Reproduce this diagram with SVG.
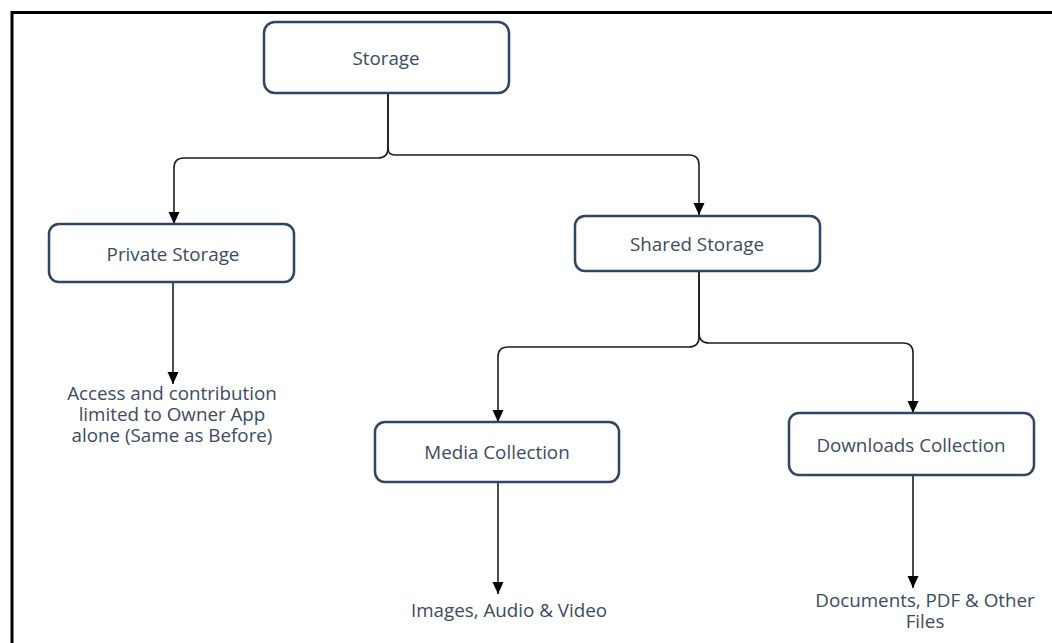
<svg xmlns="http://www.w3.org/2000/svg" width="1052" height="643" viewBox="0 0 1052 643">
  <style>
    .box { fill: #ffffff; stroke: #2f4560; stroke-width: 2.5; }
    .label { font-family: "Open Sans", "Liberation Sans", sans-serif; font-size: 18.8px; font-weight: 500; fill: #3b4b60; text-anchor: middle; }
    .edge { fill: none; stroke: #1e1e1e; stroke-width: 1.6; marker-end: url(#arrow); }
    .frame { stroke: #000000; stroke-width: 3; fill: none; }
  </style>
  <defs>
    <marker id="arrow" markerUnits="userSpaceOnUse" markerWidth="12" markerHeight="12" viewBox="0 0 12 12" refX="12" refY="6" orient="auto">
      <path d="M0,0.5 L12,6 L0,11.5 z" fill="#000000"/>
    </marker>
  </defs>

  <rect width="1052" height="643" fill="#ffffff"/>
  <!-- outer frame: top and left edges -->
  <path class="frame" d="M12,643 V12.5 H1052"/>

  <g id="connectors">
    <path class="edge" d="M388,93 V148 Q388,158 378,158 H184 Q174,158 174,168 V224"/>
    <path class="edge" d="M388,93 V148 Q388,155 395,155 H689 Q699,155 699,165 V215"/>
    <path class="edge" d="M699,271 V337 Q699,347 689,347 H508 Q498,347 498,357 V422"/>
    <path class="edge" d="M699,271 V333 Q699,343 709,343 H903 Q913,343 913,353 V413"/>
    <path class="edge" d="M173,282 V384"/>
    <path class="edge" d="M498,482 V594"/>
    <path class="edge" d="M913,475 V588"/>
  </g>

  <g id="storage">
    <rect class="box" x="264" y="22" width="245" height="71" rx="11"/>
    <text class="label" x="386" y="65">Storage</text>
  </g>
  <g id="private-storage">
    <rect class="box" x="49" y="224" width="245" height="58" rx="10"/>
    <text class="label" x="173" y="261">Private Storage</text>
  </g>
  <g id="shared-storage">
    <rect class="box" x="575" y="216" width="245" height="55" rx="10"/>
    <text class="label" x="697" y="251">Shared Storage</text>
  </g>
  <g id="media-collection">
    <rect class="box" x="375" y="422" width="244" height="60" rx="10"/>
    <text class="label" x="497" y="459">Media Collection</text>
  </g>
  <g id="downloads-collection">
    <rect class="box" x="789" y="413" width="245" height="62" rx="10"/>
    <text class="label" x="911" y="452">Downloads Collection</text>
  </g>

  <g id="private-note">
    <text class="label" x="172" y="400">Access and contribution<tspan x="172" dy="21">limited to Owner App</tspan><tspan x="172" dy="21">alone (Same as Before)</tspan></text>
  </g>
  <g id="media-note">
    <text class="label" x="509" y="617">Images, Audio &amp; Video</text>
  </g>
  <g id="downloads-note">
    <text class="label" x="925" y="607">Documents, PDF &amp; Other<tspan x="925" dy="21">Files</tspan></text>
  </g>
</svg>
